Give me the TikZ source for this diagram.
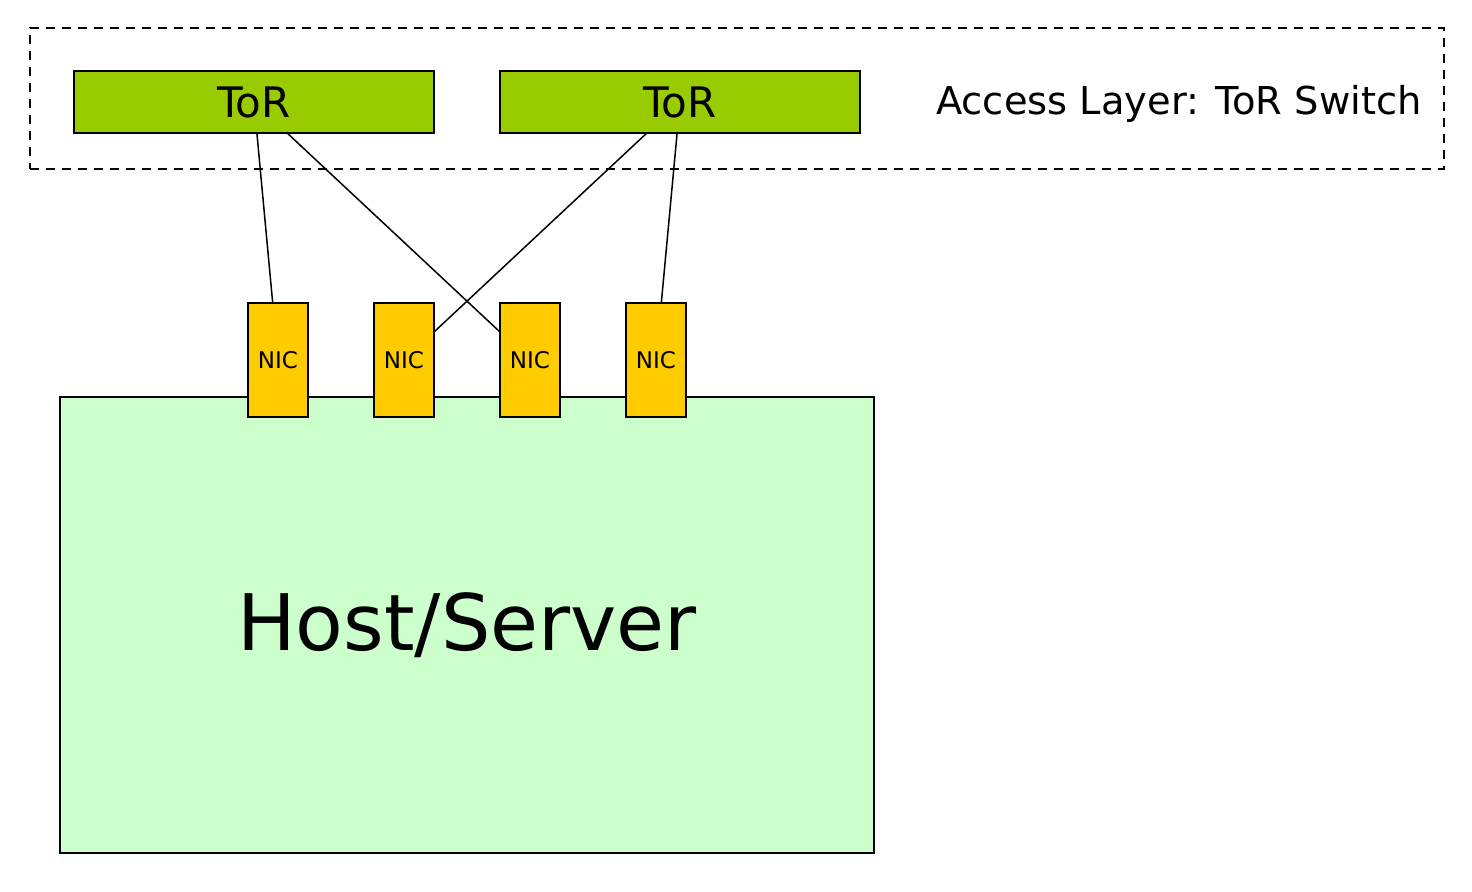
\documentclass[tikz,border=0pt]{standalone}
\usepackage{xcolor}
\usepackage{fontspec}
\setmainfont{DejaVu Sans}
\usepackage{tikz}
\usetikzlibrary{positioning}

\definecolor{torgreen}{HTML}{99CC00}
\definecolor{nicyellow}{HTML}{FFCC00}
\definecolor{hostgreen}{HTML}{CCFFCC}

\begin{document}
\begin{tikzpicture}[
    x=0.5pt, y=-0.5pt,
    node distance=32.25pt,
    tor/.style={rectangle, draw, line width=0.75pt, fill=torgreen, minimum width=180pt, minimum height=31pt, inner sep=0pt, font=\fontsize{21}{25}\selectfont},
    nic/.style={rectangle, draw, line width=0.75pt, fill=nicyellow, minimum width=30pt, minimum height=57pt, inner sep=0pt, font=\fontsize{11.5}{14}\selectfont},
    host/.style={rectangle, draw, line width=0.75pt, fill=hostgreen, minimum width=407pt, minimum height=228pt, inner sep=0pt, font=\fontsize{39}{46}\selectfont},
    layer/.style={rectangle, draw, line width=0.75pt, dash pattern=on 4.5pt off 3.5pt, minimum width=707pt, minimum height=70.5pt, inner sep=0pt},
    label/.style={font=\fontsize{19.2}{23}\selectfont, inner sep=0pt},
    link/.style={line width=0.75pt}
]
\useasboundingbox (0,0) rectangle (1472,892);

% Access layer
\node[layer] (access) at (737,98.5) {};
\node[label] (accesslabel) at (1179,104) {Access Layer: ToR Switch};

% Switches
\node[tor] (tor1) at (254,102) {ToR};
\node[tor, right=of tor1] (tor2) {ToR};

% Host
\node[host] (host) at (467,625) {Host/Server};

% NICs
\node[nic] (nic1) at (278,360) {NIC};
\node[nic, right=of nic1] (nic2) {NIC};
\node[nic, right=of nic2] (nic3) {NIC};
\node[nic, right=of nic3] (nic4) {NIC};

% Links
\draw[link] (tor1) -- (nic1);
\draw[link] (tor1) -- (nic3);
\draw[link] (tor2) -- (nic2);
\draw[link] (tor2) -- (nic4);

\end{tikzpicture}
\end{document}
